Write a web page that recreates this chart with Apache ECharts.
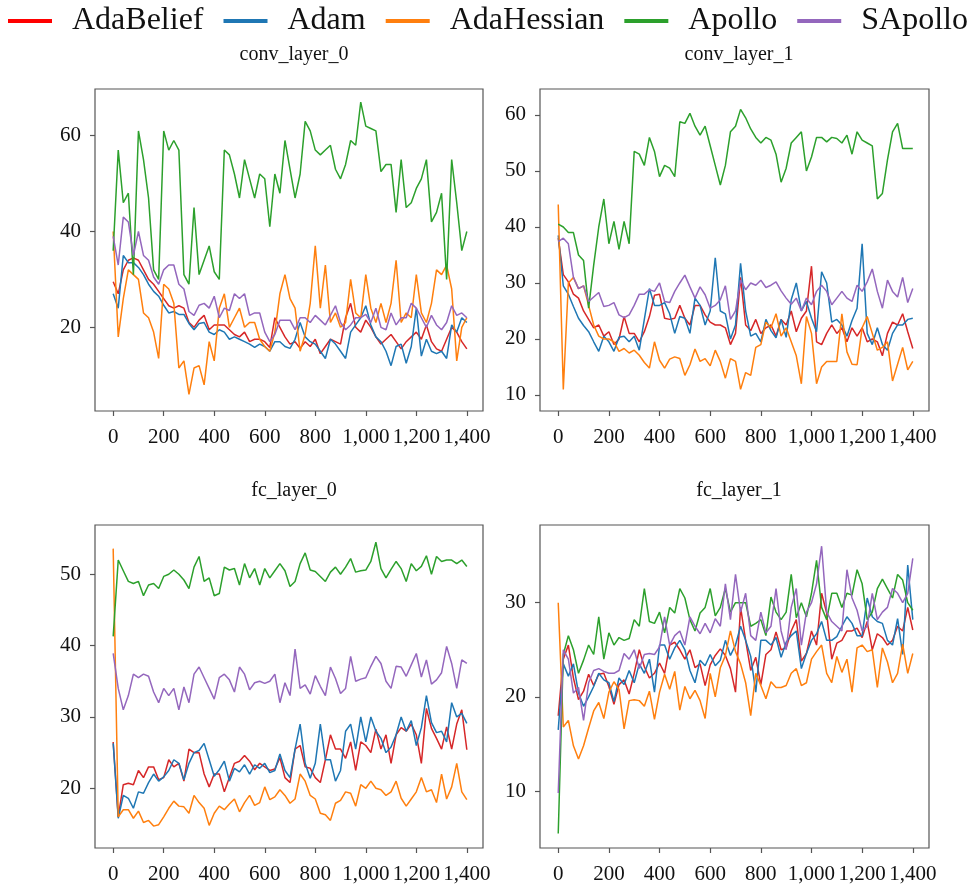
<!DOCTYPE html>
<html><head><meta charset="utf-8">
<script src="https://cdn.jsdelivr.net/npm/echarts@6/dist/echarts.min.js"></script>
<style>html,body{margin:0;padding:0;background:#fff}#c{width:974px;height:888px}</style>
</head><body><div id="c"></div>
<script>
const steps = [0,20,40,60,80,100,120,140,160,180,200,220,240,260,280,300,320,340,360,380,400,420,440,460,480,500,520,540,560,580,600,620,640,660,680,700,720,740,760,780,800,820,840,860,880,900,920,940,960,980,1000,1020,1040,1060,1080,1100,1120,1140,1160,1180,1200,1220,1240,1260,1280,1300,1320,1340,1360,1380,1400];
const seriesNames = ['AdaBelief','Adam','AdaHessian','Apollo','SApollo'];
const xTicks = [0,200,400,600,800,1000,1200,1400];
const conv0_yTicks = [20,40,60];
const conv1_yTicks = [10,20,30,40,50,60];
const fc0_yTicks = [20,30,40,50];
const fc1_yTicks = [10,20,30];

const conv0_AdaBelief = [29.5,27,32,34,34.5,34,32,30,29,27.5,26,24.5,24,24.5,24,21,20,21.5,22.5,19.5,20.5,20.5,20.5,19.5,18.5,18,19,17,17.5,17.5,17,15.8,22,20,18,16.5,17,15.6,17,16,17.5,14.5,16,17.5,17,16.5,22,25,20,19,21.5,20,18,16.5,17.5,18.5,17,15.5,17,18,19,17.5,20.5,17,15.5,15,17.5,20,19,17,15.5];
const conv0_Adam = [27,24,35,33.5,33.5,32.5,31,29,27.5,26.5,24.6,23,23.3,22.7,22.7,20.8,19.5,20.8,21,19,18.5,19.5,19,17.5,18,17.5,17,16.5,15.8,16.5,16,15,17,17,16,15.6,17.5,21,18,17,16.5,15,13.5,17.5,16.5,15,13.5,19,20.5,22,24.5,20.5,18,17,15,12,16,16.5,12.5,16,24,14,17.5,15,14.5,15,13.5,20.5,19,22,21];
const conv0_AdaHessian = [40,18,26,32,31,30,23,22,19,13.5,29,28,25,11.5,13,6,11.5,12,8,17,13,24,27,20,22,24,20,21,21,17.5,16,15,19,27,31,26,24,15,18.5,25,37,24,33,21,23,20,21,30,23,22,31,24,21,25,21,25,34,21,23,22,31,23,21,25,32,31,33,28,13,20,22];
const conv0_Apollo = [36,57,46,48,31,61,55,47,32,30,61,57,59,57,31,29,45,31,34,37,31.6,30,57,56,52,47,55,51,47,52,51,41,52,48,59,53,47,52,63,61,57,56,57,58,53,51,54,59,58,67,62,61.5,61,52.5,54,54,44,55,45,46,49,51,55,42,44,48,30,55,46,36,40];
const conv0_SApollo = [39,33,43,42,35,40,35,34,30.5,29,32,33,33,29,28,23.3,22.5,24.6,25,24,26.5,22,24,23.5,27,26,27,22.5,23,23,19,17,18.5,21.5,21.5,21.5,19.5,22,22,21,22.5,21.5,20.5,22.5,24.5,21,19.5,20.5,22,22,22.7,21,24,20,19.5,23,20.5,22,22,25,24,22,20,22.5,20.5,19.5,21,24.5,22.5,23,22];

const conv1_AdaBelief = [38,31.5,30.2,28,27.3,25,23.5,22,22.5,20.5,21.3,19,20,24,21,21,19.5,21.3,24,27.8,28,23.7,23.5,23.7,26,23.7,22.5,26,26,24.3,23,22.5,22.5,22,19,21,31,22.5,21.5,23.5,21,22,22.5,20.5,23.5,22.5,25,21.3,23.7,25,33,19.5,19,21,22.5,21,22,19.5,22,20.5,22,19.5,20,19.5,17,21,23,22.5,24.5,21.3,18.3];
const conv1_Adam = [38.5,29.5,28,25.8,23.7,22.4,21.3,19.5,17.8,20.5,19.5,17.8,20.3,20.5,19.5,20.5,18,23.5,29,26,26,26.5,24.5,21,24,23.7,21,27.3,26,22.5,25,34.5,25,24.5,20,22.5,33.5,25,20.5,21,19.5,23.5,21.5,20.2,23.5,20.3,27,30,25,26.7,23.7,21.3,32,30,23,23.5,22.5,20.5,23.3,25.5,37,21,19,22,19,18,21,22.5,22.5,23.5,23.7];
const conv1_AdaHessian = [44,11,30,31,29,29.5,26,22.5,20.5,20,20,19.5,17.8,18.3,17.5,18,17.1,15.8,14.8,19.5,16.2,14.8,16.4,16.8,16.5,13.5,15.4,18.2,16,16.5,15.2,18,16,13,16.5,16,11,14,13.5,18.5,19,23,22,24.5,20.5,22,19.5,17,12,24,21,12,15,16,16,16,24.5,17.7,15.5,15.4,22,24,21,18,18.5,19.5,12.5,15.5,18.5,14.5,16];
const conv1_Apollo = [40.5,40,39,39,35,34,25.5,33.2,40,45,37,41,36,41,37,53.5,53,51,56,53.5,49,51,50.5,49,58.8,58.5,60.3,58,56.4,58,54.5,51,47.5,51,57,58,61,59.5,57.5,56,55,56,55.5,53,48,50.5,55,56,57,50,52.5,56,56,55.2,56,55.8,55,56.4,53,57,55.5,55,54.5,45,46,52,57,58.5,54,54,54];
const conv1_SApollo = [37.4,38,37,31,29,29.5,26.7,27.5,28.3,25.8,26,26.5,24.3,23.8,24.3,26,28,28,28.8,28.5,30,26.7,26.5,28.5,30,31.4,29.3,27.3,29.3,27.9,25.5,26,27,29.5,23.5,25,30.5,28.8,30,29.6,30.5,29.2,29.6,30.2,28.6,27.3,26.2,27.3,25,27.3,26.1,28.5,29.6,28.5,26.1,27.3,28.5,27.3,26.7,29.6,28.5,30.2,32.5,28.5,25.5,30.5,28.5,27.5,31,26.5,29];

const fc0_AdaBelief = [26.5,16,20.5,20.7,20.5,22.5,21.5,23,23,21.2,21.5,24,23,23.5,21,25.5,25,25,22,20.2,22,22,19.5,21.5,23.5,23.8,24.6,23.8,22.6,23.5,23,22.5,22.7,24.3,21.5,20.8,25.5,26,23,22.8,21.5,20.8,24,27.5,25.5,25.5,24.2,26.5,22.5,26.5,26,25,28.3,25.5,27.5,23.5,27.5,28.5,28,29,27.5,23.5,31.2,28.4,27,25.5,28.6,25.5,29,31,25.4];
const fc0_Adam = [26.3,15.8,19,18.6,17.2,19.5,19.3,20.8,22,21,21.6,22.5,24,23.5,21.2,23.5,25,25.3,26.3,24,21.7,22.6,23.8,21,22.8,22.3,23.3,22,23.3,22.8,23.5,22.2,22.5,24.8,22.5,21.5,25.5,29,23.5,21.4,23.5,29,24,24,21,22.5,28,29,25.5,30,26.5,30,28,27,25,25.8,27.5,30,28,29.5,26,28.5,33,29.2,27.8,28,26.5,32,30,30.5,29.1];
const fc0_AdaHessian = [53.6,16,17,17,15.8,16.8,15.2,15.5,14.7,14.9,16,17.2,18.2,17.5,17.4,16.5,19,18,17.2,14.8,16.5,17.5,17,17.8,18.5,16.7,18,19,17.6,18,20.2,18.4,18.8,19.8,19,17.9,18.5,22,21,19,18.5,16.5,16.3,15.5,17.9,18.3,19.5,19.3,17.5,20.5,20,21,20,19.8,19,19.5,21,18.6,17.5,18.5,19.5,21.5,19.5,19.8,18,22,18.5,20.2,23.5,19.5,18.4];
const fc0_Apollo = [41.3,52,50.5,49,48.7,49,47,48.5,48.7,48,49.7,50,50.6,50,49.2,48,51,52.5,49,49.5,47,47.3,51,50.6,50.8,48.5,51.5,49.5,50.8,48.5,50.8,49.5,50.5,51.5,50.5,48.3,49,51.5,53,50.6,50.4,49.7,49,50.3,51,50,51,52.2,50.3,50.5,50.6,51.8,54.5,50.8,49.5,50.7,51.8,50.8,49,51.5,50.5,51.1,52.6,50,52.5,51.8,52,52,51.5,52,51.1];
const fc0_SApollo = [38.9,34,31,33,36,35.5,36,35.7,33.5,32,34,33,34,31,34.2,32,36,37,35.5,34,32.5,35.5,36,35.2,33.5,37,36,33.8,34.8,35,34.7,35,36,32,34.8,33,39.5,34,34.5,33.2,35.8,34.3,33,37,35.4,33.3,34,38.5,35,35.3,35.5,37.1,38.5,37.5,35,34,37.1,37,35.7,37.3,38.9,35.6,38,34.6,35.2,36.2,39.9,37.5,34,38,37.5];

const fc1_AdaBelief = [18,24,25.5,22,19.7,20.6,22.4,21.2,22.4,22.5,21.1,19.2,21.3,21.8,20.3,22.5,25,23.2,22,22.5,23.6,22.5,25.5,25.8,25,24,25,23.1,23.5,21.2,23.4,24.4,25.1,24.4,23,20.5,29.5,26,22.8,24.2,21.3,24.5,25,26.9,25,25.2,27,28.2,23.8,24.6,27,25.5,31,28.9,24,25.7,26,27,27,27.3,26.3,28,25,26.7,26.3,25.5,26,27.5,27,29.5,27.1];
const fc1_Adam = [16.5,23.5,22.2,23.5,20.4,19,20,21.1,22.5,21.8,21.5,19.5,22,21.3,22.8,21.5,23.5,22.5,24,20.5,25.5,25.5,24,25.2,26,25,22.8,21.5,23.9,23.3,24.5,23.3,23.9,26,24.4,25.5,27.5,26,24.3,20.5,26,26,25.5,26.3,24.2,25.8,26.5,27,23,24.6,26,26.7,28,26,26,26.4,27.5,28.5,27.8,26.5,26.5,30.5,28.5,28,27.8,26,25.5,28.3,24.5,34,28.2];
const fc1_AdaHessian = [30,16.8,17.5,14.8,13.4,14.8,16.7,18.5,19.4,17.7,20.5,21.6,20.8,16.6,19.6,19.7,19.6,19,20.6,17.6,20.5,22.4,20.8,22.7,18.6,21.1,19.8,20.7,19.6,17.7,22.5,20,23.1,24.4,27,24.8,23.5,21.5,18,22.5,21.2,19.8,21.6,21,21,21.2,22.5,23,21.2,21.5,24,24.8,25.5,22.5,21.5,24.3,22.6,24,20.5,25.2,25.5,24.8,25,21,25.2,23.7,21.5,22.5,25.6,22.5,24.6];
const fc1_Apollo = [5.5,24.5,26.5,25,22.5,23.9,25.5,24.5,28.5,24,26.8,25.5,26.3,26,26.2,28.2,27.5,31.5,28,27.8,29,26.8,29.5,28.9,31.5,30.5,28.2,27,28.9,29.5,31.5,28.6,29.5,31.5,29,30,30,30,27.5,27.8,28.2,26.5,30.6,29,28.2,29,33,28.4,30,28.5,31,34.5,29.5,28.2,31,31,29.5,31,30.8,33.5,32,28.2,29,31.5,32.5,31.5,30.5,33,32.4,30,29.2];
const fc1_SApollo = [9.8,25,24,20.4,21,17.5,21.5,22.8,23,22.7,22.5,22.5,22.8,24.6,24,25,23,24.5,24.6,24.5,25.3,28.5,25.5,26.5,27,25.5,28.5,27.5,26.7,27.8,26.8,28.3,27.5,32,28.2,33,29,31,26.5,26,29,26.8,27.5,31.5,27,25,29.5,31.5,25.5,29,30,32,36,29,28,27.5,27,33.5,30.5,29.2,27,27.5,31,28.2,29,29.5,31.5,31,30,31,34.7];

const colors = ['#d62728','#1f77b4','#ff7f0e','#2ca02c','#9467bd'];
const legendColors = ['#ff0000','#1f77b4','#ff7f0e','#2ca02c','#9467bd'];
const FONT = "'Liberation Serif','DejaVu Serif',serif";

const panels = [
  {title:'conv_layer_0', data:[conv0_AdaBelief,conv0_Adam,conv0_AdaHessian,conv0_Apollo,conv0_SApollo], yMin:2.53, yMax:69.75, yTicks:conv0_yTicks, left:95, top:89, width:388, height:322, tx:289, ty:40},
  {title:'conv_layer_1', data:[conv1_AdaBelief,conv1_Adam,conv1_AdaHessian,conv1_Apollo,conv1_SApollo], yMin:7.14, yMax:64.64, yTicks:conv1_yTicks, left:540, top:89, width:389, height:322, tx:734, ty:40},
  {title:'fc_layer_0', data:[fc0_AdaBelief,fc0_Adam,fc0_AdaHessian,fc0_Apollo,fc0_SApollo], yMin:11.63, yMax:56.91, yTicks:fc0_yTicks, left:95, top:525, width:388, height:323, tx:289, ty:476},
  {title:'fc_layer_1', data:[fc1_AdaBelief,fc1_Adam,fc1_AdaHessian,fc1_Apollo,fc1_SApollo], yMin:3.95, yMax:38.25, yTicks:fc1_yTicks, left:540, top:525, width:389, height:323, tx:734, ty:476}
];

const axisColor = '#555';
const labelStyle = {fontFamily: FONT, fontSize: 21, color: '#111'};

const option = {
  animation: false,
  backgroundColor: '#fff',
  title: panels.map(p => ({
    text: p.title, left: p.tx, top: p.ty, textAlign: 'center',
    textStyle: {fontFamily: FONT, fontSize: 20, fontWeight: 'normal', color: '#111'}
  })),
  legend: {
    data: seriesNames.map((n, j) => ({name: n, itemStyle: {color: legendColors[j]}})),
    icon: 'rect', itemWidth: 44, itemHeight: 4, itemGap: 20,
    left: 8, top: 5, width: 966, padding: 0,
    textStyle: {fontFamily: FONT, fontSize: 32, color: '#111', padding: [0, 0, 0, 15]}
  },
  grid: panels.map(p => ({
    left: p.left, top: p.top, width: p.width, height: p.height,
    show: true, borderColor: axisColor, borderWidth: 1.2, backgroundColor: 'transparent', containLabel: false
  })),
  xAxis: panels.map((p, i) => ({
    type: 'value', gridIndex: i, min: -72, max: 1464,
    axisLine: {show: false, onZero: false},
    splitLine: {show: false},
    axisTick: {show: true, length: 5, lineStyle: {color: axisColor, width: 1.2}, customValues: xTicks},
    axisLabel: Object.assign({customValues: xTicks, margin: 16,
      formatter: v => Number(v).toLocaleString('en-US')}, labelStyle)
  })),
  yAxis: panels.map((p, i) => ({
    type: 'value', gridIndex: i, min: p.yMin, max: p.yMax,
    axisLine: {show: false, onZero: false},
    splitLine: {show: false},
    axisTick: {show: true, length: 5, lineStyle: {color: axisColor, width: 1.2}, customValues: p.yTicks},
    axisLabel: Object.assign({customValues: p.yTicks, margin: 14}, labelStyle)
  })),
  series: []
};

panels.forEach((p, i) => {
  seriesNames.forEach((name, j) => {
    option.series.push({
      type: 'line', name: name, xAxisIndex: i, yAxisIndex: i,
      data: steps.map((s, k) => [s, p.data[j][k]]),
      showSymbol: false, symbol: 'none',
      lineStyle: {width: 1.5, color: colors[j]},
      itemStyle: {color: colors[j]},
      emphasis: {disabled: true}
    });
  });
});

const chart = echarts.init(document.getElementById('c'), null, {renderer: 'canvas'});
chart.setOption(option);
</script>
</body></html>
